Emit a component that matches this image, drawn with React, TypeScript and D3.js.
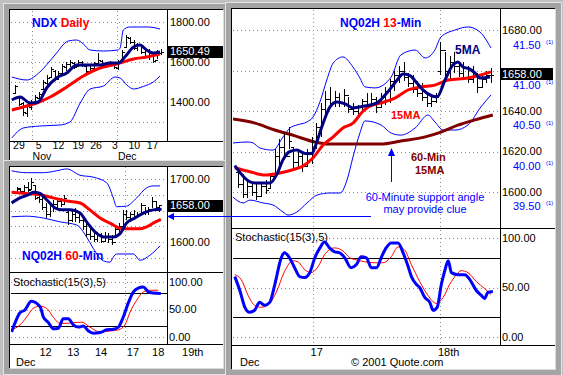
import React from 'react';
import * as d3 from 'd3';

const FONT = 'Arial, "Liberation Sans", sans-serif';

// NDX daily bars: [open, high, low, close]
const dailyBars = [
  [1445, 1485, 1440, 1480], [1425, 1430, 1380, 1390], [1395, 1400, 1330, 1350], [1345, 1390, 1325, 1380],
  [1375, 1410, 1360, 1400], [1400, 1435, 1385, 1425], [1420, 1450, 1405, 1440], [1465, 1510, 1460, 1500],
  [1495, 1535, 1480, 1520], [1525, 1575, 1520, 1565], [1555, 1560, 1505, 1515], [1515, 1555, 1510, 1545],
  [1545, 1590, 1540, 1580], [1575, 1600, 1555, 1590], [1590, 1610, 1575, 1600], [1595, 1600, 1565, 1575],
  [1580, 1610, 1580, 1600], [1600, 1605, 1575, 1585], [1580, 1585, 1545, 1555], [1555, 1580, 1550, 1570],
  [1570, 1600, 1565, 1595], [1595, 1645, 1585, 1610], [1605, 1610, 1575, 1585], [1585, 1600, 1570, 1590],
  [1590, 1605, 1575, 1595], [1595, 1600, 1565, 1575], [1570, 1610, 1560, 1600], [1605, 1660, 1600, 1650],
  [1675, 1735, 1670, 1725], [1720, 1725, 1690, 1700], [1700, 1710, 1660, 1670], [1670, 1695, 1655, 1690],
  [1685, 1690, 1640, 1650], [1650, 1670, 1620, 1630], [1630, 1665, 1610, 1650], [1635, 1640, 1595, 1605],
  [1610, 1660, 1615, 1650], [1645, 1665, 1635, 1650],
];
const dailyMa5 = [[-0.8, 1410], [1.3, 1425], [3.8, 1395], [5.9, 1400], [8, 1470], [10.5, 1520], [13.1, 1545],
  [15.6, 1585], [18.1, 1585], [21.5, 1585], [24, 1595], [26.2, 1595], [27.8, 1625], [30, 1675], [31.6, 1685],
  [33.3, 1660], [35, 1645], [36.7, 1650]];
const dailyMa15 = [[-0.8, 1360], [3, 1380], [5.5, 1395], [8.9, 1425], [13.1, 1475], [17.3, 1530], [21.5, 1570],
  [25.7, 1590], [30, 1615], [33.3, 1625], [36.7, 1640]];
const dailyUpper = [[-0.8, 1525], [3, 1510], [6.3, 1550], [9.9, 1630], [13.5, 1705], [15.6, 1710], [17.3, 1690],
  [19, 1660], [22.4, 1655], [26, 1660], [26.6, 1670], [27.4, 1760], [29, 1775], [33.7, 1775], [36.7, 1765]];
const dailyLower = [[-0.8, 1220], [2.1, 1270], [6.3, 1280], [11.4, 1285], [13.9, 1300], [16.5, 1395],
  [19, 1465], [22.4, 1480], [25.3, 1525], [26.6, 1520], [28.3, 1485], [30, 1465], [32.5, 1478], [35, 1500],
  [36.7, 1530]];
const dailyWeeks = [[1, '29'], [6, '5'], [11, '12'], [16, '19'], [20.5, '26'], [25.3, '3'], [30.2, '10'], [34.8, '17']];
const dailyMonths = [[4.2, 'Nov'], [25.8, 'Dec']];
const dailyTicks = [1400, 1600, 1800];
const dailyGrid = [1300, 1400, 1500, 1600, 1700, 1800];

// NQ02H 60-minute bars
const hourBars = [
  [1680, 1687, 1678, 1685], [1684, 1686, 1678, 1681], [1681, 1690, 1679, 1688], [1688, 1695, 1679, 1683],
  [1684, 1702, 1683, 1695], [1690, 1690, 1667, 1670], [1672, 1679, 1662, 1668], [1668, 1671, 1651, 1655],
  [1655, 1662, 1638, 1645], [1645, 1663, 1640, 1658], [1658, 1667, 1648, 1660], [1660, 1670, 1654, 1665],
  [1665, 1670, 1656, 1660], [1660, 1675, 1659, 1670], [1648, 1651, 1627, 1635], [1635, 1651, 1632, 1645],
  [1645, 1654, 1632, 1640], [1640, 1648, 1630, 1635], [1635, 1640, 1619, 1625], [1625, 1632, 1608, 1612],
  [1612, 1624, 1603, 1610], [1610, 1616, 1600, 1605], [1605, 1616, 1600, 1612], [1612, 1614, 1598, 1602],
  [1602, 1616, 1600, 1610], [1610, 1614, 1598, 1605], [1605, 1611, 1595, 1600], [1600, 1624, 1606, 1620],
  [1620, 1630, 1611, 1625], [1625, 1651, 1624, 1645], [1645, 1651, 1635, 1640], [1640, 1648, 1632, 1645],
  [1645, 1651, 1635, 1640], [1640, 1648, 1638, 1645], [1645, 1662, 1646, 1658], [1658, 1656, 1643, 1648],
  [1648, 1656, 1643, 1652], [1652, 1671, 1654, 1665], [1665, 1663, 1651, 1655], [1655, 1659, 1648, 1658],
];
const hourMa5 = [[-1.4, 1662], [0.9, 1670], [3.2, 1675], [4.5, 1679], [6.4, 1677], [8.2, 1667], [10.5, 1654],
  [12.3, 1651], [14.6, 1651], [17.3, 1646], [19.1, 1632], [21.4, 1616], [23.7, 1608], [26.4, 1608], [28.2, 1613],
  [30, 1630], [32.3, 1638], [34.6, 1646], [37.3, 1651], [39.6, 1652]];
const hourMa15 = [[-1.4, 1679], [2.7, 1677], [6.4, 1675], [10, 1670], [13.7, 1665], [17.3, 1662], [20, 1651],
  [22.8, 1638], [25.5, 1630], [28.2, 1622], [30.9, 1621], [33.7, 1621], [35.5, 1624], [37.3, 1630], [39.4, 1636]];
const hourUpper = [[-1.4, 1713], [2.7, 1710], [7.3, 1710], [10.9, 1713], [13.7, 1716], [17.3, 1706], [20.9, 1703],
  [24.6, 1694], [26.4, 1670], [27.3, 1656], [30, 1657], [32.8, 1670], [35.5, 1686], [37.3, 1689], [39.2, 1689]];
const hourLower = [[-1.4, 1640], [2.7, 1641], [7.3, 1638], [11.8, 1632], [16.4, 1627], [19.1, 1608], [20.9, 1590],
  [23.7, 1570], [25.5, 1568], [26.4, 1576], [27.3, 1581], [31.9, 1581], [33.7, 1571], [36.4, 1579], [39.2, 1594]];
const hourK = [[-1.4, 9], [-0.5, 25], [0.9, 44], [2.2, 49], [4, 65], [6.4, 55], [7.3, 36], [8.6, 27], [10, 15],
  [11.4, 16], [12.7, 33], [14.1, 33], [15.5, 22], [16.9, 18], [18.2, 20], [19.6, 11], [21, 7], [22.8, 8], [24.6, 13],
  [26.4, 14], [27.8, 18], [29.1, 36], [30.5, 62], [31.9, 82], [33.2, 89], [34.6, 91], [36, 82], [37.3, 80], [39.4, 79]];
const hourD = [[-1.4, 13], [0.9, 22], [2.7, 36], [4.5, 52], [6.4, 56], [8.2, 52], [10, 36], [11.8, 25], [13.7, 25],
  [15.5, 26], [17.8, 27], [20, 18], [22.8, 9], [25.5, 11], [27.8, 13], [29.6, 22], [30.9, 44], [32.8, 67], [34.6, 82],
  [36.4, 85], [38.7, 85]];
const hourDays = [[6.2, '12'], [13.8, '13'], [21.4, '14'], [30.1, '17'], [37, '18'], [45.2, '19th']];
const hourWeekend = 29.6;
const hourTicks = [1600, 1700];
const hourGrid = [1575, 1600, 1625, 1650, 1675, 1700];

// NQ02H 13-minute bars
const minBars = [
  [1610, 1612, 1602, 1604], [1604, 1609, 1597, 1599], [1599, 1606, 1597, 1603], [1603, 1605, 1598, 1600],
  [1600, 1604, 1596, 1598], [1598, 1605, 1598, 1603], [1603, 1606, 1599, 1601], [1602, 1609, 1602, 1608],
  [1608, 1621, 1607, 1618], [1618, 1626, 1612, 1622], [1622, 1629, 1616, 1618], [1618, 1632, 1621, 1625],
  [1622, 1622, 1612, 1615], [1615, 1621, 1612, 1618], [1618, 1619, 1610, 1613], [1613, 1621, 1613, 1619],
  [1619, 1627, 1614, 1625], [1625, 1634, 1621, 1632], [1632, 1644, 1627, 1641], [1641, 1650, 1637, 1646],
  [1646, 1652, 1642, 1644], [1644, 1650, 1642, 1647], [1647, 1649, 1642, 1644], [1644, 1651, 1642, 1648],
  [1648, 1647, 1639, 1641], [1641, 1644, 1638, 1640], [1640, 1643, 1637, 1642], [1642, 1646, 1640, 1645],
  [1645, 1649, 1642, 1643], [1643, 1649, 1642, 1646], [1646, 1647, 1639, 1642], [1642, 1649, 1642, 1647],
  [1647, 1652, 1643, 1650], [1650, 1656, 1644, 1655], [1655, 1660, 1650, 1658], [1658, 1662, 1654, 1660],
  [1660, 1664, 1655, 1657], [1657, 1659, 1652, 1654], [1654, 1658, 1649, 1651], [1651, 1655, 1647, 1649],
  [1649, 1654, 1645, 1647], [1647, 1649, 1642, 1644], [1644, 1648, 1642, 1645], [1645, 1649, 1644, 1647],
  [1660, 1674, 1658, 1670], [1670, 1669, 1657, 1660], [1660, 1667, 1655, 1664], [1664, 1669, 1659, 1662],
  [1662, 1664, 1657, 1659], [1659, 1664, 1657, 1661], [1661, 1662, 1654, 1656], [1656, 1662, 1654, 1659],
  [1659, 1659, 1649, 1652], [1652, 1659, 1652, 1656], [1656, 1660, 1654, 1658], [1658, 1661, 1654, 1658],
];
const minMa5 = [[-0.7, 1613], [2.6, 1605], [3.7, 1604.5], [7, 1604.5], [8.5, 1609], [9.8, 1616], [11.3, 1620],
  [12.8, 1620.7], [14.6, 1619], [16.1, 1619], [16.7, 1622], [18.5, 1634], [20, 1642], [21.5, 1644.4], [23.3, 1643.5],
  [25, 1641.5], [27.2, 1642.3], [30.2, 1644], [32.4, 1649], [34.6, 1655.3], [35.9, 1658.3], [37.4, 1657.5],
  [38.9, 1653.8], [40.2, 1650.4], [42.2, 1647.4], [43.3, 1647], [45, 1655.3], [46.7, 1662.7], [47.8, 1664.2],
  [48.9, 1661.7], [50.4, 1660.7], [51.5, 1658.8], [52.6, 1656.3], [54.8, 1656.8]];
const minMa15 = [[-0.7, 1612], [2.6, 1610], [5.9, 1608.4], [9.1, 1609.4], [11.9, 1611], [14.1, 1612.8],
  [16.3, 1616.8], [18.5, 1623.2], [20.7, 1627.2], [22.8, 1631.6], [25, 1634], [27, 1639.5], [28.3, 1642],
  [31.1, 1644], [34.1, 1646.4], [37, 1650.4], [39.8, 1651.9], [42.8, 1652.8], [45.7, 1655.3], [50, 1656.3],
  [52.8, 1657.8], [55, 1659.3]];
const min60Ma15 = [[-1.1, 1636], [3.7, 1634], [8, 1630.6], [12.4, 1627.7], [16.7, 1624.7], [19.6, 1623.7],
  [31.1, 1623.7], [35.4, 1625.2], [40.7, 1627.2], [44.1, 1629.6], [47.8, 1633], [51.5, 1635.6], [55.4, 1638]];
const minUpper = [[-1.1, 1624.2], [2.2, 1624.7], [3.3, 1624.2], [4.8, 1621.7], [7.6, 1620.7], [9.8, 1627.2],
  [11.3, 1631.6], [12.8, 1633.1], [15, 1634.6], [16.3, 1637], [17.8, 1644.4], [19.3, 1655.3], [20.7, 1663.7],
  [22.8, 1666.7], [25, 1661.7], [26.5, 1656.3], [27.6, 1651.9], [29.8, 1651.4], [33.3, 1656.8], [35.4, 1667.7],
  [38.5, 1670.1], [40.7, 1666.2], [42.8, 1670.1], [44.1, 1676.5], [47.2, 1680], [50, 1681.5], [52.6, 1679],
  [55, 1671.1]];
const minLower = [[-1.1, 1597.5], [1.1, 1594.6], [2.6, 1596], [5.4, 1594.6], [7.6, 1593.6], [9.8, 1590.1],
  [10.9, 1588.6], [12.8, 1590.1], [15, 1594.6], [17.2, 1598.5], [20, 1599.5], [22.2, 1599.5], [23.7, 1605.9],
  [25, 1617.3], [26.5, 1629.1], [27.6, 1635.1], [31.1, 1633.1], [33.3, 1629.1], [35.4, 1628.1], [38.5, 1631.6],
  [41.3, 1638], [42.8, 1634.6], [44.6, 1630.6], [47.2, 1630.6], [50, 1633.1], [52.8, 1642], [55, 1647.9]];
const minK = [[-0.7, 61], [0.4, 47], [1.5, 30], [2.5, 25], [3.6, 27], [4.7, 35], [5.8, 32], [6.9, 35], [8, 53],
  [9.4, 80], [10.1, 85], [11.2, 80], [12.3, 70], [13.4, 61], [14.5, 60], [15.6, 65], [16.7, 80], [17.8, 90],
  [18.8, 96], [19.9, 90], [21, 86], [22.1, 85], [23.2, 80], [24.6, 70], [25.7, 73], [26.8, 81], [27.9, 80], [29, 70],
  [30.1, 70], [31.2, 81], [32.2, 90], [33.3, 95], [34.8, 95], [35.9, 85], [37, 71], [37.7, 61], [38.8, 53],
  [39.5, 50], [40.6, 40], [41.7, 35], [42.4, 27], [43.3, 30], [44.2, 53], [44.9, 66], [45.7, 77], [46.4, 65],
  [47.8, 63], [49.3, 63], [50.4, 58], [51.8, 47], [52.9, 42], [53.6, 39], [54.3, 45], [55.4, 46]];
const minD = [[-0.7, 63], [0.7, 58], [2.2, 42], [3.6, 32], [5.1, 30], [6.9, 34], [8.3, 45], [10.1, 66], [11.9, 77],
  [13, 76], [14.5, 68], [15.9, 65], [17.4, 71], [18.8, 83], [21, 90], [22.8, 87], [24.3, 80], [25.7, 78], [27.5, 76],
  [29.7, 75], [31.5, 75], [33.3, 81], [34.8, 91], [36.2, 88], [37.7, 73], [39.5, 56], [41.3, 42], [43.1, 34],
  [44.6, 40], [46, 53], [47.5, 63], [48.5, 67], [50, 65], [51.8, 56], [53.6, 49], [55, 43]];
const minDays = [[16.2, '17'], [43.9, '18th']];
const minGrid = [1600, 1620, 1640, 1660, 1680];
const minTicks = [1600, 1620, 1640, 1680];
const minAlt = [39.5, 40, 40.5, 41, 41.5];
const stochTicks = [0, 50, 100];

const xD = d3.scaleLinear().domain([0, 37]).range([15, 161.2]);
const yD = d3.scaleLinear().domain([1400, 1800]).range([102, 22]);
const xH = d3.scaleLinear().domain([0, 39]).range([16.7, 159.4]);
const yH = d3.scaleLinear().domain([1600, 1700]).range([242, 179]);
const sH = d3.scaleLinear().domain([0, 100]).range([337, 282]);
const xM = d3.scaleLinear().domain([0, 55]).range([238, 491]);
const yM = d3.scaleLinear().domain([1600, 1680]).range([192, 30]);
const yAlt = d3.scaleLinear().domain([39.5, 41.5]).range([205, 44]);
const sM = d3.scaleLinear().domain([0, 100]).range([337, 238]);

const fmt = d3.format('.2f');

function Bars({ data, x, y }) {
  return (
    <g stroke="#000" strokeWidth={1} shapeRendering="crispEdges">
      {data.map(([o, h, l, c], i) => {
        const cx = Math.round(x(i)) + 0.5;
        const yo = Math.round(y(o)) + 0.5;
        const yc = Math.round(y(c)) + 0.5;
        return (
          <g key={i}>
            <line x1={cx} x2={cx} y1={y(h)} y2={y(l)} />
            <line x1={cx - 2.5} x2={cx} y1={yo} y2={yo} />
            <line x1={cx} x2={cx + 2.5} y1={yc} y2={yc} />
          </g>
        );
      })}
    </g>
  );
}

function Curve({ pts, x, y, color, width }) {
  const gen = d3.line().x(d => x(d[0])).y(d => y(d[1])).curve(d3.curveMonotoneX);
  return <path d={gen(pts)} fill="none" stroke={color} strokeWidth={width} strokeLinejoin="round" />;
}

function Frame({ x, y, w, h }) {
  return (
    <g shapeRendering="crispEdges">
      <rect x={x - 6.5} y={y - 6.5} width={w + 13} height={h + 13} fill="#a4a4a4" stroke="#e4e4e4" />
      <rect x={x} y={y} width={w} height={h} fill="#fff" />
      <path d={`M${x - 0.5},${y + h} V${y - 0.5} H${x + w}`} stroke="#000" fill="none" />
      <path d={`M${x + w + 0.5},${y} V${y + h + 0.5} H${x}`} stroke="#dcdcdc" fill="none" />
    </g>
  );
}

function HGrid({ vals, y, x1, x2 }) {
  return (
    <g stroke="#909090" strokeDasharray="1,3" shapeRendering="crispEdges">
      {vals.map(v => <line key={v} x1={x1} x2={x2} y1={Math.round(y(v)) + 0.5} y2={Math.round(y(v)) + 0.5} />)}
    </g>
  );
}

function VGrid({ xs, y1, y2 }) {
  return (
    <g stroke="#909090" strokeDasharray="1,3" shapeRendering="crispEdges">
      {xs.map((v, i) => <line key={i} x1={Math.round(v) + 0.5} x2={Math.round(v) + 0.5} y1={y1} y2={y2} />)}
    </g>
  );
}

function Stoch({ k, d, x, s, x1, x2, clip }) {
  return (
    <g>
      <HGrid vals={stochTicks} y={s} x1={x1} x2={x2} />
      <g stroke="#000" shapeRendering="crispEdges">
        {[20, 80].map(v => <line key={v} x1={x1} x2={x2} y1={Math.round(s(v)) + 0.5} y2={Math.round(s(v)) + 0.5} />)}
      </g>
      <g clipPath={`url(#${clip})`}>
        <Curve pts={d} x={x} y={s} color="#ff0000" width={1} />
        <Curve pts={k} x={x} y={s} color="#0000ff" width={3} />
      </g>
      {stochTicks.map(v => (
        <text key={v} x={x2 + 2} y={s(v)} dy="0.36em" fontSize={11}>{fmt(v)}</text>
      ))}
    </g>
  );
}

export default function App() {
  return (
    <svg width={563} height={375} style={{ position: 'absolute', left: 0, top: 0 }} fontFamily={FONT}>
      <defs>
        <clipPath id="cD"><rect x={11} y={11} width={156} height={130} /></clipPath>
        <clipPath id="cH"><rect x={11} y={167} width={156} height={105} /></clipPath>
        <clipPath id="cHs"><rect x={11} y={273} width={156} height={71} /></clipPath>
        <clipPath id="cM"><rect x={233} y={10} width={267} height={218} /></clipPath>
        <clipPath id="cMs"><rect x={233} y={229} width={267} height={116} /></clipPath>
      </defs>
      <rect width={563} height={375} fill="#c0c0c0" />
      <Frame x={10} y={10} w={213} h={151} />
      <Frame x={10} y={167} w={213} h={201} />
      <Frame x={232} y={9} w={323} h={360} />

      {/* NDX daily */}
      <HGrid vals={dailyGrid} y={yD} x1={11} x2={167} />
      <VGrid xs={dailyMonths.map(m => xD(m[0]))} y1={11} y2={141} />
      <g clipPath="url(#cD)">
        <Curve pts={dailyUpper} x={xD} y={yD} color="#0000ff" width={1} />
        <Curve pts={dailyLower} x={xD} y={yD} color="#0000ff" width={1} />
        <Bars data={dailyBars} x={xD} y={yD} />
        <Curve pts={dailyMa15} x={xD} y={yD} color="#ff0000" width={3} />
        <Curve pts={dailyMa5} x={xD} y={yD} color="#000080" width={3} />
      </g>
      <text x={32} y={27} fontSize={12} fontWeight="bold">
        <tspan fill="#0000ff">NDX </tspan><tspan fill="#ff0000">Daily</tspan>
      </text>
      <g stroke="#000" shapeRendering="crispEdges">
        <line x1={10} x2={223} y1={141.5} y2={141.5} />
        <line x1={167.5} x2={167.5} y1={10} y2={141} />
      </g>
      {dailyTicks.map(v => <text key={v} x={170} y={yD(v)} dy="0.4em" fontSize={11}>{fmt(v)}</text>)}
      <rect x={167} y={46} width={56} height={12} fill="#000" />
      <text x={170} y={yD(1650.49)} dy="0.3em" fontSize={11} fill="#fff">1650.49</text>
      {dailyWeeks.map(([i, t]) => <text key={t} x={xD(i)} y={149} fontSize={10.5} textAnchor="middle">{t}</text>)}
      {dailyMonths.map(([i, t]) => <text key={t} x={xD(i) + 1} y={160} fontSize={10.5}>{t}</text>)}

      {/* NQ02H 60-min */}
      <HGrid vals={hourGrid} y={yH} x1={11} x2={167} />
      <VGrid xs={[xH(hourWeekend)]} y1={167} y2={344} />
      <g clipPath="url(#cH)">
        <Curve pts={hourUpper} x={xH} y={yH} color="#0000ff" width={1} />
        <Curve pts={hourLower} x={xH} y={yH} color="#0000ff" width={1} />
        <Bars data={hourBars} x={xH} y={yH} />
        <Curve pts={hourMa15} x={xH} y={yH} color="#ff0000" width={3} />
        <Curve pts={hourMa5} x={xH} y={yH} color="#000080" width={3} />
      </g>
      <text x={22} y={260} fontSize={12} fontWeight="bold">
        <tspan fill="#0000ff">NQ02H </tspan><tspan fill="#ff0000">60</tspan><tspan fill="#0000ff">-Min</tspan>
      </text>
      {hourTicks.map(v => <text key={v} x={170} y={yH(v)} dy="0.36em" fontSize={11}>{fmt(v)}</text>)}
      <rect x={167} y={200} width={56} height={12} fill="#000" />
      <text x={170} y={yH(1658)} dy="0.36em" fontSize={11} fill="#fff">1658.00</text>
      <Stoch k={hourK} d={hourD} x={xH} s={sH} x1={11} x2={167} clip="cHs" />
      <text x={13} y={286} fontSize={11}>Stochastic(15(3),5)</text>
      <g stroke="#000" shapeRendering="crispEdges">
        <line x1={10} x2={223} y1={272.5} y2={272.5} />
        <line x1={10} x2={223} y1={344.5} y2={344.5} />
        <line x1={167.5} x2={167.5} y1={167} y2={344} />
      </g>
      {hourDays.map(([i, t]) => <text key={t} x={xH(i)} y={356} fontSize={11}>{t}</text>)}
      <text x={16} y={366} fontSize={11}>Dec</text>

      {/* NQ02H 13-min */}
      <HGrid vals={minGrid} y={yM} x1={233} x2={500} />
      <VGrid xs={minDays.map(d => xM(d[0]))} y1={10} y2={345} />
      <g clipPath="url(#cM)">
        <Curve pts={minUpper} x={xM} y={yM} color="#0000ff" width={1} />
        <Curve pts={minLower} x={xM} y={yM} color="#0000ff" width={1} />
        <Curve pts={min60Ma15} x={xM} y={yM} color="#800000" width={3} />
        <Bars data={minBars} x={xM} y={yM} />
        <Curve pts={minMa15} x={xM} y={yM} color="#ff0000" width={3} />
        <Curve pts={minMa5} x={xM} y={yM} color="#000080" width={3} />
      </g>
      <text x={340} y={27} fontSize={12} fontWeight="bold">
        <tspan fill="#0000ff">NQ02H </tspan><tspan fill="#ff0000">13</tspan><tspan fill="#0000ff">-Min</tspan>
      </text>
      <text x={455} y={54} fontSize={12} fontWeight="bold" fill="#000080">5MA</text>
      <text x={391} y={119} fontSize={11} fontWeight="bold" fill="#ff0000">15MA</text>
      <text x={411} y={161} fontSize={11} fontWeight="bold" fill="#800000">60-Min</text>
      <text x={415} y={174} fontSize={11} fontWeight="bold" fill="#800000">15MA</text>
      <g fill="#0000ff" stroke="#0000ff">
        <line x1={391.5} x2={391.5} y1={154} y2={182} />
        <path d="M391.5,148 L388,156 L395,156 Z" stroke="none" />
        <line x1={173} x2={371} y1={216.5} y2={216.5} />
        <path d="M167,216.5 L174,213 L174,220 Z" stroke="none" />
      </g>
      <text x={425} y={201} fontSize={11} fill="#0000ff" textAnchor="middle">60-Minute support angle</text>
      <text x={425} y={213} fontSize={11} fill="#0000ff" textAnchor="middle">may provide clue</text>
      {minTicks.map(v => <text key={v} x={502} y={yM(v)} dy="0.36em" fontSize={11}>{fmt(v)}</text>)}
      {minAlt.map(v => (
        <g key={v}>
          <text x={513} y={yAlt(v)} dy="0.45em" fontSize={11} fill="#0000ff">{fmt(v)}</text>
          <text x={546} y={yAlt(v)} fontSize={6} fill="#0000ff">(1)</text>
        </g>
      ))}
      <rect x={500} y={68} width={53} height={12} fill="#000" />
      <text x={502} y={yM(1658)} dy="0.3em" fontSize={11} fill="#fff">1658.00</text>
      <Stoch k={minK} d={minD} x={xM} s={sM} x1={233} x2={500} clip="cMs" />
      <text x={235} y={241} fontSize={11}>Stochastic(15(3),5)</text>
      <g stroke="#000" shapeRendering="crispEdges">
        <line x1={232} x2={555} y1={228.5} y2={228.5} />
        <line x1={232} x2={555} y1={345.5} y2={345.5} />
        <line x1={500.5} x2={500.5} y1={9} y2={345} />
      </g>
      {minDays.map(([i, t]) => <text key={t} x={xM(i) - 2} y={356} fontSize={11}>{t}</text>)}
      <text x={240} y={366} fontSize={11}>Dec</text>
      <text x={351} y={366} fontSize={11}>© 2001 Quote.com</text>
    </svg>
  );
}
